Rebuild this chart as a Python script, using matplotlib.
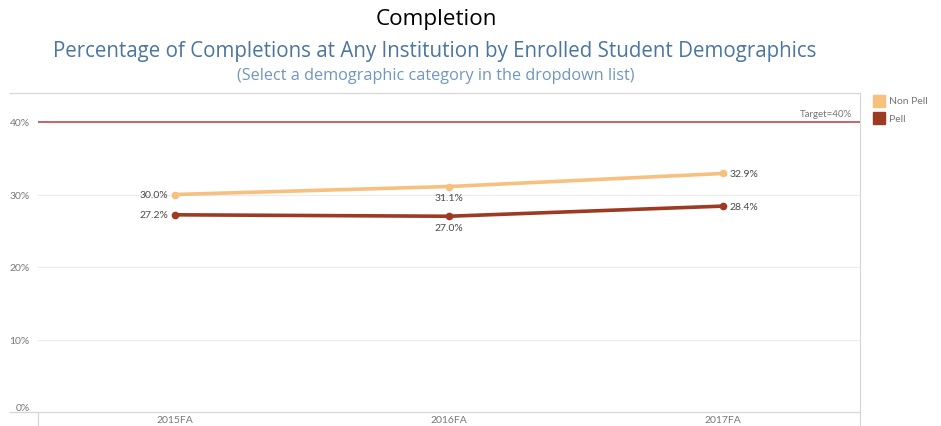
import numpy as np, matplotlib; matplotlib.use("Agg")
import matplotlib.pyplot as plt
from matplotlib.lines import Line2D
from matplotlib.patches import Rectangle

terms = ["2015FA", "2016FA", "2017FA"]
non_pell = [30.0, 31.1, 32.9]
pell = [27.2, 27.0, 28.4]
target = 40
yticks = [0, 10, 20, 30, 40]

C_NON = "#f7c07e"
C_PELL = "#9e3a22"
C_TGT = "#c0585a"
GREY = "#777777"

plt.rcParams['font.family'] = ['Lato', 'DejaVu Sans']
W, H = 941, 427
fig = plt.figure(figsize=(W/100, H/100), dpi=100)
fx = lambda px: px/W
fy = lambda py: 1 - py/H

ax = fig.add_axes([fx(38), fy(413), fx(860)-fx(38), fy(94)-fy(413)])
ax.set_xlim(-0.5, 2.5); ax.set_ylim(0, 44)
x = np.arange(len(terms))

ax.set_yticks(yticks)
ax.set_yticklabels([f"{v}%" for v in yticks], fontsize=7.5, color=GREY)
ax.tick_params(axis='y', length=0, pad=6)
ax.get_yticklabels()[0].set_va("bottom")
ax.set_xticks([])
for v in yticks[1:-1]:
    ax.axhline(v, color="#ececec", lw=0.8, zorder=0)
for s in ["left", "top", "bottom"]:
    ax.spines[s].set_visible(False)
ax.spines["right"].set_color("#d6d6d6")

ax.axhline(target, color=C_TGT, lw=1.3, zorder=1)
ax.text(2.47, target + 0.6, f"Target={target}%", ha="right", va="bottom", fontsize=7, color=GREY)

ax.plot(x, non_pell, color=C_NON, lw=2.6, marker="o", ms=4.5, zorder=3, solid_capstyle="round")
ax.plot(x, pell, color=C_PELL, lw=2.6, marker="o", ms=4.5, zorder=3, solid_capstyle="round")

# data labels: left of first point, below middle, right of last
def lab(vals):
    ax.text(x[0] - 0.025, vals[0], f"{vals[0]:.1f}%", ha="right", va="center", fontsize=7.5, color="#4a4a4a")
    ax.text(x[1], vals[1] - 0.9, f"{vals[1]:.1f}%", ha="center", va="top", fontsize=7.5, color="#4a4a4a")
    ax.text(x[2] + 0.025, vals[2], f"{vals[2]:.1f}%", ha="left", va="center", fontsize=7.5, color="#4a4a4a")
lab(non_pell); lab(pell)

# frame lines that run past the plot area
for y0 in (94, 413):
    fig.add_artist(Line2D([fx(10), fx(860)], [fy(y0), fy(y0)], color="#d6d6d6", lw=0.9))
for x0 in (38, 860):
    fig.add_artist(Line2D([fx(x0), fx(x0)], [fy(413), fy(427)], color="#d6d6d6", lw=0.9))
for xi, t in zip(x, terms):
    px = 38 + (xi + 0.5) / 3 * (860 - 38)
    fig.text(fx(px), fy(421), t, ha="center", va="center", fontsize=7.5, color=GREY)

# legend
for i, (name, col) in enumerate([("Non Pell", C_NON), ("Pell", C_PELL)]):
    yy = 102 + i * 17
    fig.add_artist(Rectangle((fx(873), fy(yy + 6)), fx(12), fy(0) - fy(12), color=col, transform=fig.transFigure))
    fig.text(fx(889), fy(yy), name, ha="left", va="center", fontsize=7.5, color=GREY)

fig.text(fx(436), fy(20), "Completion", ha="center", va="center", fontsize=16.2, color="black",
         family=['Open Sans', 'DejaVu Sans'])
fig.text(fx(435), fy(51), "Percentage of Completions at Any Institution by Enrolled Student Demographics",
         ha="center", va="center", fontsize=14.8, color="#4a76a0", family=['Open Sans', 'DejaVu Sans'])
fig.text(fx(436), fy(76), "(Select a demographic category in the dropdown list)", ha="center", va="center",
         fontsize=11.7, color="#6f97c0", family=['Open Sans', 'DejaVu Sans'])

fig.savefig("out.png", dpi=100)
